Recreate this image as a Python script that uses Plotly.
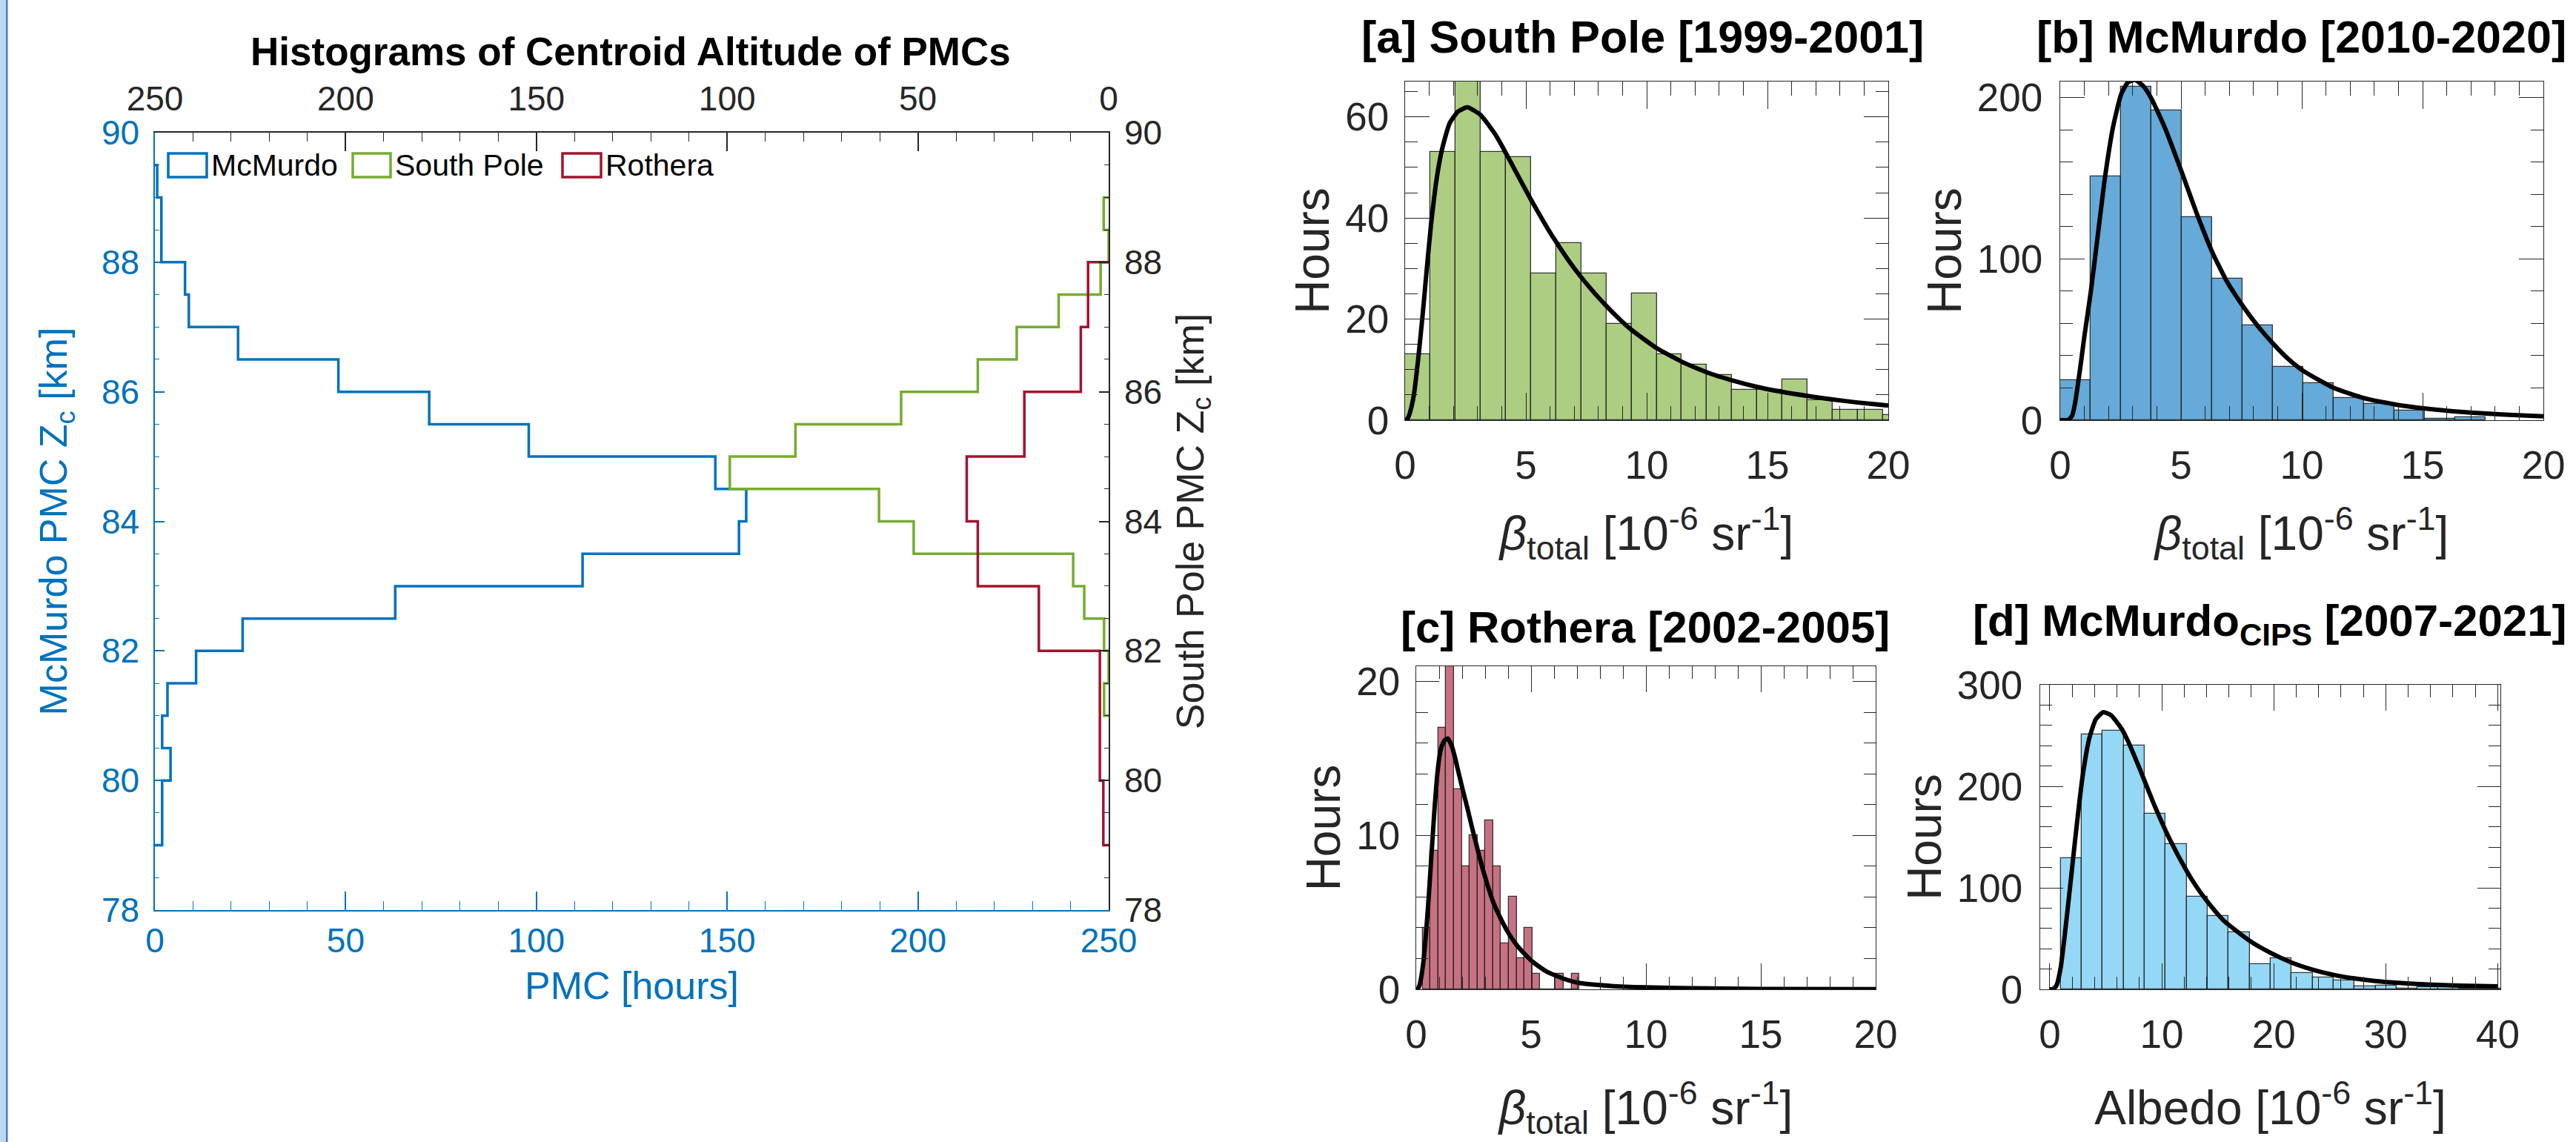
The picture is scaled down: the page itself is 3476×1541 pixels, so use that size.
import plotly.graph_objects as go

W, H = 3476, 1541

# ---------------- data: left panel (stairs histograms of centroid altitude) ----------------
mcm_alt_edges = [79.0, 79.5, 80.0, 80.5, 81.0, 81.5, 82.0, 82.5, 83.0, 83.5, 84.0,
                 84.5, 85.0, 85.5, 86.0, 86.5, 87.0, 87.5, 88.0, 88.5, 89.0, 89.5]
mcm_hours = [1.9, 1.9, 4.1, 1.9, 3.3, 10.8, 23.0, 63.0, 112.1, 153.1, 155.0,
             146.9, 98.0, 71.9, 48.1, 21.8, 8.9, 7.9, 1.7, 1.7, 0.6]

sp_alt_edges = [81.0, 81.5, 82.0, 82.5, 83.0, 83.5, 84.0, 84.5, 85.0, 85.5,
                86.0, 86.5, 87.0, 87.5, 88.0, 88.5, 89.0]
sp_hours = [1.2, 0.0, 1.2, 6.4, 9.3, 51.1, 60.2, 99.3, 82.1, 54.4, 34.3, 24.1,
            13.1, 2.1, 0.0, 1.3]

rot_alt_edges = [79.0, 80.0, 81.0, 82.0, 83.0, 84.0, 85.0, 86.0, 87.0, 88.0]
rot_hours = [1.4, 2.3, 2.3, 18.3, 34.3, 37.2, 22.1, 7.3, 5.4]

legend_names = ["McMurdo", "South Pole", "Rothera"]

# ---------------- data: panel a (South Pole) ----------------
a_bin_start = 0.0
a_bin_width = 1.0415
a_counts = [13, 53, 68, 53, 52, 29, 35, 29, 19, 25, 13, 11, 9, 6, 6, 8, 4, 2, 2, 1]
a_fit_x = [0.0, 0.1, 0.2, 0.36, 0.54, 0.72, 0.89, 1.07, 1.33, 1.54, 1.84, 2.2, 2.58,
           3.12, 3.74, 4.04, 4.76, 5.19, 5.78, 6.19, 6.81, 7.22, 7.83, 8.31, 8.85,
           9.36, 10.4, 11.44, 12.48, 13.52, 14.56, 15.61, 16.65, 17.69, 18.73, 20.0]
a_fit_y = [0.0, 0.3, 1.5, 4.9, 12.0, 20.5, 29.5, 38.5, 48.5, 53.8, 58.7, 61.1, 61.9,
           60.4, 56.5, 54.0, 47.6, 43.8, 38.9, 35.7, 31.3, 28.7, 25.2, 22.7, 20.1,
           17.9, 14.3, 11.6, 9.5, 7.9, 6.6, 5.6, 4.8, 4.1, 3.5, 2.9]

# ---------------- data: panel b (McMurdo lidar) ----------------
b_bin_start = 0.0
b_bin_width = 1.258
b_counts = [25, 151, 207, 192, 126, 88, 59, 33, 23, 14, 10, 6, 1, 2]
b_fit_x = [0.0, 0.35, 0.5, 0.62, 0.74, 0.87, 1.0, 1.27, 1.56, 1.83, 2.19, 2.52, 2.8,
           3.1, 3.45, 3.79, 4.37, 5.05, 5.63, 6.3, 6.9, 7.55, 8.2, 8.81, 9.4, 10.07,
           11.33, 12.59, 13.86, 15.11, 16.37, 17.63, 18.92, 20.0]
b_fit_y = [0.0, 0.3, 3.0, 11.0, 23.0, 37.0, 52.0, 80.0, 115.0, 148.0, 182.0, 202.0,
           209.5, 211.0, 207.0, 199.0, 180.0, 153.0, 129.0, 104.0, 86.0, 71.0, 58.0,
           47.5, 38.5, 30.5, 20.0, 13.6, 9.8, 7.2, 5.4, 4.1, 3.1, 2.4]

# ---------------- data: panel c (Rothera) ----------------
c_bin_start = 0.28
c_bin_width = 0.341
c_counts = [4, 9, 17, 22, 13, 8, 10, 9, 11, 8, 3, 6, 2, 4, 1, 0, 0, 1, 0, 1]
c_fit_x = [0.0, 0.1, 0.19, 0.33, 0.44, 0.55, 0.64, 0.72, 0.81, 0.92, 1.02, 1.11,
           1.25, 1.38, 1.55, 1.70, 1.81, 2.02, 2.24, 2.45, 2.67, 2.88, 3.10, 3.37,
           3.71, 4.04, 4.39, 4.72, 5.06, 5.68, 6.4, 7.08, 8.5, 9.98, 12.0, 15.0, 20.0]
c_fit_y = [0.0, 0.1, 0.56, 2.0, 3.9, 6.1, 8.2, 10.0, 12.0, 14.0, 15.2, 15.8, 16.2,
           16.3, 15.8, 15.0, 14.3, 13.0, 11.7, 10.4, 9.1, 7.9, 6.8, 5.6, 4.5, 3.6,
           2.85, 2.3, 1.8, 1.15, 0.7, 0.42, 0.22, 0.13, 0.07, 0.03, 0.01]

# ---------------- data: panel d (McMurdo CIPS albedo) ----------------
d_bin_start = 0.98
d_bin_width = 1.874
d_counts = [129, 251, 255, 240, 173, 143, 91, 72, 56, 25, 31, 16, 12, 9, 3, 4, 1,
            2, 2, 1, 1]
d_fit_x = [0.0, 0.3, 0.59, 0.98, 1.37, 1.76, 2.15, 2.54, 2.93, 3.52, 4.1, 4.77,
           5.47, 6.45, 7.0, 8.0, 9.2, 10.7, 12.2, 13.1, 14.1, 15.5, 17.82, 19.7,
           21.57, 23.44, 25.31, 27.19, 29.06, 30.93, 32.8, 34.67, 36.55, 38.42, 40.0]
d_fit_y = [0.0, 0.5, 3.7, 22.0, 57.0, 96.0, 136.0, 175.0, 210.0, 247.0, 266.0,
           273.0, 270.0, 256.0, 244.0, 218.0, 185.0, 148.0, 117.0, 101.0, 86.0, 68.0,
           48.0, 36.0, 26.5, 19.5, 14.3, 10.7, 8.2, 6.5, 5.3, 4.4, 3.7, 3.2, 2.9]

# ---------------- styles ----------------
FONT = "Liberation Sans, Arial, Helvetica, sans-serif"
BLUE = "#0072bd"
GREEN = "#77ac30"
RED = "#a2142f"
DARK = "#262626"
A_COL = "#adcd83"
B_COL = "#65aad8"
C_COL = "#c77282"
D_COL = "#94d8f5"


def px_x(p):
    return p / W


def px_y(p):
    return 1 - p / H


def stairs(edges, counts):
    xs = [0.0]
    ys = [edges[0]]
    for i, c in enumerate(counts):
        xs += [c, c]
        ys += [edges[i], edges[i + 1]]
    xs.append(0.0)
    ys.append(edges[-1])
    return xs, ys


def bar_centers(start, width, n):
    return [start + (i + 0.5) * width for i in range(n)]


fig = go.Figure()

# left panel
mx, my = stairs(mcm_alt_edges, mcm_hours)
sx, sy = stairs(sp_alt_edges, sp_hours)
rx, ry = stairs(rot_alt_edges, rot_hours)
fig.add_trace(go.Scatter(x=mx, y=my, mode="lines", name=legend_names[0],
                         line=dict(color=BLUE, width=3.5), xaxis="x", yaxis="y",
                         showlegend=False))
fig.add_trace(go.Scatter(x=sx, y=sy, mode="lines", name=legend_names[1],
                         line=dict(color=GREEN, width=3.5), xaxis="x2", yaxis="y2",
                         showlegend=False))
fig.add_trace(go.Scatter(x=rx, y=ry, mode="lines", name=legend_names[2],
                         line=dict(color=RED, width=3.5), xaxis="x2", yaxis="y2",
                         showlegend=False))

panels = [
    ("3", a_bin_start, a_bin_width, a_counts, a_fit_x, a_fit_y, A_COL),
    ("4", b_bin_start, b_bin_width, b_counts, b_fit_x, b_fit_y, B_COL),
    ("5", c_bin_start, c_bin_width, c_counts, c_fit_x, c_fit_y, C_COL),
    ("6", d_bin_start, d_bin_width, d_counts, d_fit_x, d_fit_y, D_COL),
]
for k, start, width, counts, fx, fy, col in panels:
    fig.add_trace(go.Bar(x=bar_centers(start, width, len(counts)), y=counts,
                         width=width, marker=dict(color=col,
                                                  line=dict(color="rgba(25,25,25,0.85)", width=1.3)),
                         xaxis="x" + k, yaxis="y" + k, showlegend=False))
    fig.add_trace(go.Scatter(x=fx, y=fy, mode="lines",
                             line=dict(color="black", width=6, shape="spline", smoothing=0.5),
                             xaxis="x" + k, yaxis="y" + k, showlegend=False))

# ---------------- axes ----------------
L_X = [px_x(209), px_x(1496)]
L_Y = [px_y(1228), px_y(179)]


def left_axis(color, **kw):
    d = dict(showline=True, linecolor=color, linewidth=1.5, showgrid=False,
             zeroline=False, ticks="inside", tickcolor=color, tickwidth=1.5,
             automargin=False,
             tickfont=dict(family=FONT, size=46, color=color))
    d.update(kw)
    return d


layout_axes = dict(
    xaxis=left_axis(BLUE, domain=L_X, range=[0, 250], anchor="y", dtick=50, ticklen=25,
                    minor=dict(dtick=10, ticks="inside", ticklen=12, tickcolor=BLUE, tickwidth=1.2),
                    ticklabelstandoff=0,
                    title=dict(text="PMC [hours]", font=dict(family=FONT, size=52, color=BLUE),
                               standoff=18)),
    xaxis2=left_axis(DARK, overlaying="x", side="top", anchor="y2", range=[250, 0], dtick=50,
                     ticklen=25, ticklabelstandoff=10,
                     minor=dict(dtick=10, ticks="inside", ticklen=12, tickcolor=DARK, tickwidth=1.2)),
    yaxis=left_axis(BLUE, domain=L_Y, range=[78, 90], anchor="x", dtick=2, ticklen=13,
                    ticklabelstandoff=10,
                    minor=dict(dtick=0.5, ticks="inside", ticklen=6, tickcolor=BLUE, tickwidth=1.2),
                    title=dict(text="McMurdo PMC Z<sub>c</sub> [km]",
                               font=dict(family=FONT, size=52, color=BLUE), standoff=30)),
    yaxis2=left_axis(DARK, overlaying="y", side="right", anchor="x2", range=[78, 90], dtick=2,
                     ticklen=13, ticklabelstandoff=10,
                     minor=dict(dtick=0.5, ticks="inside", ticklen=6, tickcolor=DARK, tickwidth=1.2),
                     title=dict(text="South Pole PMC Z<sub>c</sub> [km]",
                                font=dict(family=FONT, size=52, color=DARK), standoff=20)),
)


def r_axis(domain, rng, dtick, mdtick, ticklen, mlen, anchor, title=None, standoff=20,
           tick0=0, labstand=14):
    d = dict(domain=domain, range=rng, anchor=anchor, dtick=dtick, tick0=tick0,
             showline=True, linecolor=DARK, linewidth=1.3, mirror="ticks",
             showgrid=False, zeroline=False, ticks="inside", ticklen=ticklen,
             tickwidth=1.3, tickcolor=DARK, ticklabelstandoff=labstand,
             automargin=False,
             minor=dict(dtick=mdtick, tick0=tick0, ticks="inside", ticklen=mlen,
                        tickcolor=DARK, tickwidth=1.2),
             tickfont=dict(family=FONT, size=53, color=DARK))
    if title:
        d["title"] = dict(text=title, font=dict(family=FONT, size=64, color=DARK),
                          standoff=standoff)
    return d


BETA = "<i>β</i><sub>total</sub> [10<sup>-6</sup> sr<sup>-1</sup>]"
A_X = [px_x(1896), px_x(2548)]
A_Y = [px_y(567), px_y(110)]
B_X = [px_x(2780), px_x(3432)]
C_X = [px_x(1911), px_x(2531)]
C_Y = [px_y(1335), px_y(899)]
D_X = [px_x(2753), px_x(3374)]
D_Y = [px_y(1335), px_y(924)]

layout_axes.update(
    xaxis3=r_axis(A_X, [0, 20], 5, 1, 37, 19, "y3", BETA, 41),
    yaxis3=r_axis(A_Y, [0, 67], 20, 5, 33, 17, "x3", "Hours", 0, labstand=10),
    xaxis4=r_axis(B_X, [0, 20], 5, 1, 37, 19, "y4", BETA, 41),
    yaxis4=r_axis(A_Y, [0, 210], 100, 20, 33, 17, "x4", "Hours", 0, labstand=12),
    xaxis5=r_axis(C_X, [0, 20], 5, 1, 35, 17, "y5", BETA, 48),
    yaxis5=r_axis(C_Y, [0, 21], 10, 2, 31, 16, "x5", "Hours", 0, labstand=10),
    xaxis6=r_axis(D_X, [-0.86, 40.24], 10, 2, 35, 17, "y6",
                  "Albedo [10<sup>-6</sup> sr<sup>-1</sup>]", 48),
    yaxis6=r_axis(D_Y, [0, 300], 100, 20, 31, 16, "x6", "Hours", 0, labstand=12),
)

# ---------------- annotations (titles, legend labels) ----------------
def title_ann(text, xp, yp, size):
    return dict(text="<b>" + text + "</b>", x=px_x(xp), y=px_y(yp), xref="paper", yref="paper",
                xanchor="center", yanchor="middle", showarrow=False,
                font=dict(family=FONT, size=size, color="black"))


annotations = [
    title_ann("Histograms of Centroid Altitude of PMCs", 851, 70, 53),
    title_ann("[a] South Pole [1999-2001]", 2216, 50, 61),
    title_ann("[b] McMurdo [2010-2020]", 3105, 50, 61),
    title_ann("[c] Rothera [2002-2005]", 2220, 846, 60),
    title_ann("[d] McMurdo<sub>CIPS</sub> [2007-2021]", 3063, 842, 60),
]

legend_boxes = [(227, 279, BLUE), (476, 527, GREEN), (759, 811, RED)]
shapes = [
    dict(type="rect", xref="paper", yref="paper", x0=0, x1=px_x(8), y0=0, y1=1,
         fillcolor="#bdd8f5", line=dict(width=0), layer="above"),
    dict(type="rect", xref="paper", yref="paper", x0=px_x(8), x1=px_x(10.5), y0=0, y1=1,
         fillcolor="#4a7bd0", line=dict(width=0), layer="above"),
]
for (x0, x1, col), name in zip(legend_boxes, legend_names):
    shapes.append(dict(type="rect", xref="paper", yref="paper", x0=px_x(x0), x1=px_x(x1),
                       y0=px_y(239), y1=px_y(207), line=dict(color=col, width=3.5),
                       fillcolor="rgba(0,0,0,0)"))
    annotations.append(dict(text=name, x=px_x(x1 + 4), y=px_y(223), xref="paper",
                            yref="paper", xanchor="left", yanchor="middle",
                            showarrow=False,
                            font=dict(family=FONT, size=41, color="black")))

fig.update_layout(
    width=W, height=H,
    autosize=False,
    margin=dict(l=0, r=0, t=0, b=0, pad=0, autoexpand=False),
    paper_bgcolor="white", plot_bgcolor="rgba(0,0,0,0)",
    font=dict(family=FONT, color=DARK),
    showlegend=False,
    bargap=0,
    annotations=annotations,
    shapes=shapes,
    **layout_axes,
)

fig.write_html("out.html")
